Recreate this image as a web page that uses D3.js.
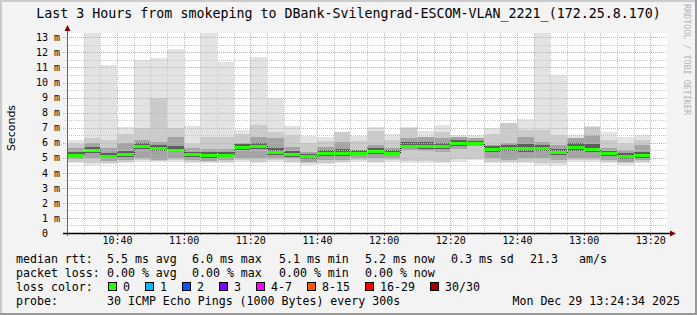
<!DOCTYPE html>
<html>
<head>
<meta charset="utf-8">
<script src="https://cdn.jsdelivr.net/npm/d3@7"></script>
<style>
body { margin: 0; background: #f3f3f3; }
text { font-family: "DejaVu Sans Mono", monospace; fill: #000; }
</style>
</head>
<body>
<div id="graph"></div>
<script>

// 5 minute slots, one smoke bar each
var aSlots = [
    "10:25", "10:30", "10:35", "10:40", "10:45", "10:50", "10:55",
    "11:00", "11:05", "11:10", "11:15", "11:20", "11:25", "11:30",
    "11:35", "11:40", "11:45", "11:50", "11:55", "12:00", "12:05",
    "12:10", "12:15", "12:20", "12:25", "12:30", "12:35", "12:40",
    "12:45", "12:50", "12:55", "13:00", "13:05", "13:10", "13:15"
]

var aTickLabels = ["10:40", "11:00", "11:20", "11:40", "12:00", "12:20", "12:40", "13:00", "13:20"]
var aYTicks = [0, 1, 2, 3, 4, 5, 6, 7, 8, 9, 10, 11, 12, 13]

// rtt in ms (sorted pings, some percentiles)
var aMedian = [5.18, 5.51, 5.14, 5.27, 5.76, 5.67, 5.54, 5.23, 5.18, 5.18, 5.71, 5.78, 5.38, 5.23, 5.09, 5.29, 5.32, 5.34,
    5.47, 5.34, 5.78, 5.78, 5.76, 5.98, 6.00, 5.60, 5.67, 5.63, 5.67, 5.38, 5.71, 5.60, 5.29, 5.12, 5.16]
var aMax = [6.18, 14.5, 11.16, 7.07, 11.5, 11.6, 12.2, 7.11, 14.5, 11.38, 6.84, 11.72, 8.95, 7.11, 6.44, 6.36, 6.73, 6.44,
    7.02, 6.58, 7.02, 6.80, 7.18, 6.51, 6.49, 7.00, 7.33, 7.55, 14.5, 10.5, 6.51, 7.11, 6.73, 6.40, 6.51]
var aP28 = [5.90, 6.30, 6.20, 6.60, 7.00, 8.95, 6.95, 5.90, 6.40, 6.40, 6.60, 7.20, 6.73, 6.50, 6.00, 6.10, 6.73, 6.10,
    6.80, 6.20, 6.95, 6.40, 6.70, 6.30, 6.20, 6.60, 7.29, 6.84, 6.84, 6.51, 6.30, 7.07, 6.20, 5.90, 6.20]
var aP23 = [5.63, 5.96, 5.67, 5.96, 6.18, 6.07, 6.40, 5.63, 5.60, 5.60, 5.96, 6.40, 6.29, 5.74, 5.40, 5.74, 6.07, 5.52,
    5.85, 5.63, 6.29, 6.40, 6.29, 6.40, 6.29, 5.85, 5.96, 6.40, 6.07, 5.85, 6.29, 6.51, 5.63, 5.52, 5.85]
var aP19 = [5.35, 5.72, 5.32, 5.48, 5.98, 5.88, 5.80, 5.40, 5.36, 5.38, 5.92, 6.00, 5.62, 5.45, 5.26, 5.50, 5.56, 5.52,
    5.68, 5.52, 6.02, 6.05, 6.00, 6.18, 6.12, 5.80, 5.88, 5.90, 5.88, 5.58, 5.95, 5.90, 5.48, 5.30, 5.40]
var aP12 = [5.02, 5.30, 4.98, 5.08, 5.55, 5.45, 5.35, 5.05, 5.00, 5.02, 5.50, 5.55, 5.18, 5.05, 4.92, 5.10, 5.12, 5.15,
    5.28, 5.15, 5.62, 5.60, 5.55, 5.80, 5.90, 5.40, 5.42, 5.40, 5.45, 5.15, 5.48, 5.38, 5.10, 4.95, 4.98]
var aP8 = [4.90, 5.00, 4.80, 4.85, 4.96, 4.85, 4.96, 4.85, 4.80, 4.85, 4.96, 4.96, 4.96, 4.96, 4.74, 4.85, 4.85, 4.96,
    4.96, 4.96, 5.50, 5.45, 5.35, 5.55, 5.80, 4.96, 4.85, 4.96, 4.96, 4.85, 4.96, 4.96, 4.85, 4.74, 4.85]
var aP3 = [4.75, 4.68, 4.68, 4.75, 4.85, 4.80, 4.85, 4.75, 4.72, 4.74, 4.85, 4.75, 4.85, 4.75, 4.62, 4.68, 4.75, 4.85,
    4.75, 4.85, 4.80, 4.78, 4.75, 4.90, 4.95, 4.75, 4.75, 4.75, 4.66, 4.66, 4.85, 4.85, 4.75, 4.64, 4.75]
var aMin = [4.63, 4.52, 4.56, 4.63, 4.74, 4.70, 4.74, 4.63, 4.63, 4.63, 4.74, 4.63, 4.74, 4.63, 4.52, 4.56, 4.63, 4.74,
    4.63, 4.74, 4.63, 4.63, 4.63, 4.74, 4.85, 4.63, 4.63, 4.63, 4.52, 4.52, 4.74, 4.74, 4.63, 4.52, 4.63]

var aLegendRtt = [["5.5 ms avg", 107], ["6.0 ms max", 192], ["5.1 ms min", 279], ["5.2 ms now", 365], ["0.3 ms sd", 451], ["21.3", 530], ["am/s", 579]]
var aLegendLoss = [["0.00 % avg", 107], ["0.00 % max", 192], ["0.00 % min", 279], ["0.00 % now", 365]]
var aLossLabels = ["0", "1", "2", "3", "4-7", "8-15", "16-29", "30/30"]
var aLossColors = ["#26ff00", "#00b8ff", "#0059ff", "#7e00ff", "#ff00ff", "#ff5500", "#ff0000", "#a00000"]
var aLossX = [108, 145, 182, 219, 256, 307, 365, 430]


var W = 697, H = 315;
// "top" is taken by window.top, so plot edges get their own names
var pLeft = 67, pRight = 667, pTop = 33, pBottom = 233;

var parse = d3.timeParse("%H:%M");
var tStart = parse("10:25"), tEnd = parse("13:25");

var x = d3.scaleTime().domain([tStart, tEnd]).range([pLeft, pRight]);
var y = d3.scaleLinear().domain([0, 13.29]).range([pBottom, pTop]);

var svg = d3.select("#graph")
    .append("svg")
    .attr("width", W)
    .attr("height", H)

svg.append("rect").attr("width", W).attr("height", H).attr("fill", "#f3f3f3")
// frame
svg.append("rect").attr("x", 0).attr("y", 0).attr("width", W).attr("height", 2).attr("fill", "#cbcbcb")
svg.append("rect").attr("x", 0).attr("y", 0).attr("width", 2).attr("height", H).attr("fill", "#cbcbcb")
svg.append("rect").attr("x", 0).attr("y", H - 2).attr("width", W).attr("height", 2).attr("fill", "#999999")
svg.append("rect").attr("x", W - 2).attr("y", 0).attr("width", 2).attr("height", H).attr("fill", "#999999")

svg.append("rect")
    .attr("x", pLeft).attr("y", pTop)
    .attr("width", pRight - pLeft).attr("height", pBottom - pTop)
    .attr("fill", "#ffffff")

svg.append("clipPath").attr("id", "plotClip")
    .append("rect")
    .attr("x", pLeft).attr("y", pTop)
    .attr("width", pRight - pLeft).attr("height", pBottom - pTop)

var plot = svg.append("g").attr("clip-path", "url(#plotClip)").attr("shape-rendering", "crispEdges");

var aSlotDates = aSlots.map(parse);

function px(t) { return Math.round(x(t)); }

// smoke: outer pair lightest, inner darker
var aBands = [
    [aMin, aMax, "#e3e3e3"],
    [aP3, aP28, "#cbcbcb"],
    [aP8, aP23, "#a4a4a4"],
    [aP12, aP19, "#5e5e5e"]
];

aBands.forEach(function(band) {
    plot.append("g")
        .selectAll("rect")
        .data(aSlotDates)
        .enter()
        .append("rect")
        .attr("x", function(d) { return px(d); })
        .attr("width", function(d) { return px(d3.timeMinute.offset(d, 5)) - px(d); })
        .attr("y", function(d, i) { return Math.round(y(band[1][i])); })
        .attr("height", function(d, i) { return Math.round(y(band[0][i])) - Math.round(y(band[1][i])); })
        .attr("fill", band[2])
})

// median step line + green loss band
var aLinePts = aSlotDates.map(function(d, i) { return [d, aMedian[i]]; });
aLinePts.push([d3.timeMinute.offset(aSlotDates[aSlotDates.length - 1], 5), aMedian[aMedian.length - 1]]);

plot.append("path")
    .attr("d", d3.line()
        .x(function(d) { return px(d[0]) + 0.5; })
        .y(function(d) { return Math.round(y(d[1])) + 0.5; })
        .curve(d3.curveStepAfter)(aLinePts))
    .attr("fill", "none")
    .attr("stroke", "#202020")
    .attr("stroke-width", 1)

plot.append("g")
    .selectAll("rect")
    .data(aSlotDates)
    .enter()
    .append("rect")
    .attr("x", function(d) { return px(d); })
    .attr("width", function(d) { return px(d3.timeMinute.offset(d, 5)) - px(d); })
    .attr("y", function(d, i) { return Math.round(y(aMedian[i])) - 1; })
    .attr("height", 3)
    .attr("fill", aLossColors[0])

// grid on top of the graph
var aMajorT = aTickLabels.map(parse);
var aMinorT = d3.timeMinute.every(5).range(d3.timeMinute.offset(tStart, 5), tEnd).filter(function(t) {
    return t.getMinutes() % 20 != 0;
});

var grid = svg.append("g").attr("shape-rendering", "crispEdges");

grid.selectAll("line.vminor")
    .data(aMinorT)
    .enter()
    .append("line")
    .attr("x1", function(d) { return px(d) + 0.5; })
    .attr("x2", function(d) { return px(d) + 0.5; })
    .attr("y1", pTop).attr("y2", pBottom)
    .attr("stroke", "#c8c8c8")
    .attr("stroke-dasharray", "1,1")

var aMinorY = [];
for (var i = 0; i < 14; i++) { if (y(i + 0.5) > pTop) aMinorY.push(i + 0.5); }

grid.selectAll("line.hminor")
    .data(aMinorY)
    .enter()
    .append("line")
    .attr("x1", pLeft - 2).attr("x2", pRight)
    .attr("y1", function(d) { return Math.round(y(d)) + 0.5; })
    .attr("y2", function(d) { return Math.round(y(d)) + 0.5; })
    .attr("stroke", "#c8c8c8")
    .attr("stroke-dasharray", "1,1")

grid.selectAll("line.vmajor")
    .data(aMajorT)
    .enter()
    .append("line")
    .attr("x1", function(d) { return px(d) + 0.5; })
    .attr("x2", function(d) { return px(d) + 0.5; })
    .attr("y1", pTop).attr("y2", pBottom)
    .attr("stroke", "#e6a0a0")
    .attr("stroke-dasharray", "1,1")

grid.selectAll("line.hmajor")
    .data(aYTicks.slice(1))
    .enter()
    .append("line")
    .attr("x1", pLeft - 4).attr("x2", pRight)
    .attr("y1", function(d) { return Math.round(y(d)) + 0.5; })
    .attr("y2", function(d) { return Math.round(y(d)) + 0.5; })
    .attr("stroke", "#e6a0a0")
    .attr("stroke-dasharray", "1,1")

// ticks under the x axis
grid.selectAll("line.tminor")
    .data(aMinorT)
    .enter()
    .append("line")
    .attr("x1", function(d) { return px(d) + 0.5; })
    .attr("x2", function(d) { return px(d) + 0.5; })
    .attr("y1", pBottom).attr("y2", pBottom + 2)
    .attr("stroke", "#999")

grid.selectAll("line.tmajor")
    .data(aMajorT)
    .enter()
    .append("line")
    .attr("x1", function(d) { return px(d) + 0.5; })
    .attr("x2", function(d) { return px(d) + 0.5; })
    .attr("y1", pBottom).attr("y2", pBottom + 3)
    .attr("stroke", "#a05050")

// axes
svg.append("line")
    .attr("x1", pLeft + 0.5).attr("x2", pLeft + 0.5)
    .attr("y1", pBottom + 3).attr("y2", pTop - 4)
    .attr("stroke", "#606060")
svg.append("line")
    .attr("x1", pLeft - 4).attr("x2", pRight + 4)
    .attr("y1", pBottom + 0.5).attr("y2", pBottom + 0.5)
    .attr("stroke", "#000")
    .attr("stroke-width", 1.3)

svg.append("path")
    .attr("d", "M" + (pLeft - 2.5) + "," + (pTop - 2) + "L" + (pLeft + 3.5) + "," + (pTop - 2) + "L" + (pLeft + 0.5) + "," + (pTop - 8) + "Z")
    .attr("fill", "#7f0000")
svg.append("path")
    .attr("d", "M" + (pRight + 3) + "," + (pBottom - 2.5) + "L" + (pRight + 3) + "," + (pBottom + 3.5) + "L" + (pRight + 9) + "," + (pBottom + 0.5) + "Z")
    .attr("fill", "#7f0000")

var xAxis = d3.axisBottom(x)
    .tickValues(aMajorT)
    .tickFormat(d3.timeFormat("%H:%M"))
    .tickSize(0)
    .tickPadding(4)

svg.append("g")
    .attr("transform", "translate(0," + pBottom + ")")
    .call(xAxis)
    .call(function(g) { g.select(".domain").remove(); })
    .selectAll("text")
    .attr("font-family", "DejaVu Sans Mono")
    .attr("font-size", "10px")
    .attr("fill", "#000")

var yAxis = d3.axisLeft(y)
    .tickValues(aYTicks)
    .tickFormat(function(d) { return d == 0 ? "0" : d + " m"; })
    .tickSize(0)
    .tickPadding(7)

svg.append("g")
    .attr("transform", "translate(" + pLeft + ",0)")
    .call(yAxis)
    .call(function(g) { g.select(".domain").remove(); })
    .selectAll("text")
    .attr("font-family", "DejaVu Sans Mono")
    .attr("font-size", "10px")
    .attr("fill", "#000")
    .attr("dx", function(d) { return d == 0 ? "-12" : "0"; })

// title + labels
svg.append("text")
    .text("Last 3 Hours from smokeping to DBank-Svilengrad-ESCOM-VLAN_2221_(172.25.8.170)")
    .attr("x", 348.5)
    .attr("y", 18)
    .attr("text-anchor", "middle")
    .attr("font-size", "13.3px")

svg.append("text")
    .text("Seconds")
    .attr("transform", "translate(15,128) rotate(-90)")
    .attr("text-anchor", "middle")
    .style("font-family", "DejaVu Sans")
    .attr("font-size", "11px")

svg.append("text")
    .text("RRDTOOL / TOBI OETIKER")
    .attr("transform", "translate(684,4) rotate(90)")
    .attr("font-size", "8.4px")
    .style("fill", "#b4b4b4")

// legend
var fs = "11.6px";
var aRowY = [263, 277, 291, 305];

svg.append("text").text("median rtt:").attr("x", 16).attr("y", aRowY[0]).attr("font-size", fs)
svg.selectAll("text.rtt")
    .data(aLegendRtt)
    .enter()
    .append("text")
    .text(function(d) { return d[0]; })
    .attr("x", function(d) { return d[1]; })
    .attr("y", aRowY[0])
    .attr("font-size", fs)

svg.append("text").text("packet loss:").attr("x", 16).attr("y", aRowY[1]).attr("font-size", fs)
svg.selectAll("text.loss")
    .data(aLegendLoss)
    .enter()
    .append("text")
    .text(function(d) { return d[0]; })
    .attr("x", function(d) { return d[1]; })
    .attr("y", aRowY[1])
    .attr("font-size", fs)

svg.append("text").text("loss color:").attr("x", 16).attr("y", aRowY[2]).attr("font-size", fs)
svg.selectAll("rect.lc")
    .data(aLossLabels)
    .enter()
    .append("rect")
    .attr("x", function(d, i) { return aLossX[i] + 0.5; })
    .attr("y", aRowY[2] - 8.5)
    .attr("width", 8)
    .attr("height", 8)
    .attr("fill", function(d, i) { return aLossColors[i]; })
    .attr("stroke", "#000")
    .attr("stroke-width", 1)
svg.selectAll("text.lc")
    .data(aLossLabels)
    .enter()
    .append("text")
    .text(function(d) { return d; })
    .attr("x", function(d, i) { return aLossX[i] + 15; })
    .attr("y", aRowY[2])
    .attr("font-size", fs)

svg.append("text").text("probe:").attr("x", 16).attr("y", aRowY[3]).attr("font-size", fs)
svg.append("text").text("30 ICMP Echo Pings (1000 Bytes) every 300s").attr("x", 107).attr("y", aRowY[3]).attr("font-size", fs)
svg.append("text").text("Mon Dec 29 13:24:34 2025").attr("x", 680).attr("y", aRowY[3]).attr("text-anchor", "end").attr("font-size", fs)

</script>
</body>
</html>
